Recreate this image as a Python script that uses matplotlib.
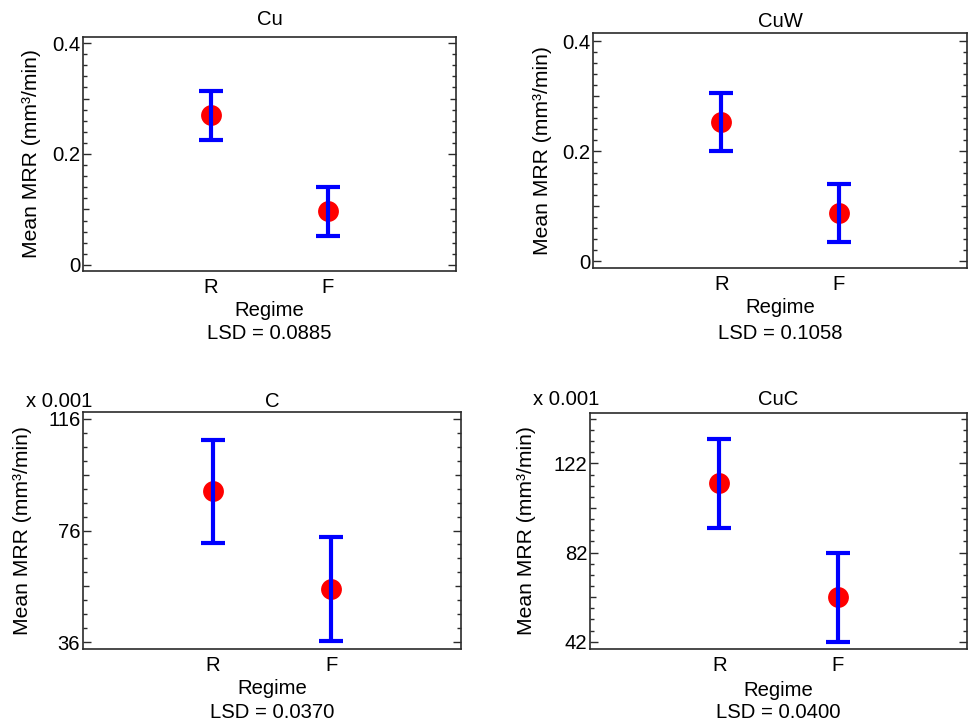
import numpy as np
import matplotlib
matplotlib.use("Agg")
import matplotlib.pyplot as plt
from matplotlib.ticker import MultipleLocator, FuncFormatter

plt.rcParams['font.family'] = ['Liberation Sans', 'DejaVu Sans']

# data
materials = ['Cu', 'CuW', 'C', 'CuC']
regimes = ['R', 'F']
mean_cu = [0.270, 0.097]
mean_cuw = [0.253, 0.087]
mean_c = [0.090, 0.055]
mean_cuc = [0.113, 0.062]
lsd = [0.0885, 0.1058, 0.0370, 0.0400]
scale = [1, 1, 1000, 1000]          # C and CuC are shown in units of 0.001

# axis settings per panel: ylim, labelled step, offset, minor step
ylims = [(-0.011, 0.411), (-0.0127, 0.4145), (33.5, 118.5), (38.7, 144.6)]
lab_step = [0.2, 0.2, 40, 40]
lab_off = [0.0, 0.0, 36, 42]
minor_step = [0.02, 0.02, 5, 5]

means = [mean_cu, mean_cuw, mean_c, mean_cuc]

# layout (figure fractions) and text offsets
boxes = [[0.0856, 0.6262, 0.3845, 0.3228],
         [0.6113, 0.6303, 0.3856, 0.3241],
         [0.0856, 0.1048, 0.3897, 0.3269],
         [0.6082, 0.1048, 0.3887, 0.3255]]
title_y = [1.073, 1.051, 1.046, 1.059]
ylab_x = [-0.139, -0.134, -0.159, -0.167]
xlab_y = [-0.167, -0.170, -0.165, -0.174]
lsd_y = [-0.265, -0.277, -0.266, -0.267]

fs = 14.6
spine_col = '#2b2b2b'

fig = plt.figure(figsize=(9.7, 7.25), dpi=100)

for i in range(4):
    ax = fig.add_axes(boxes[i])
    x = np.arange(1, len(regimes) + 1)
    y = np.array(means[i]) * scale[i]
    half = lsd[i] / 2 * scale[i]

    ax.plot(x, y, 'o', color='#ff0000', markersize=15, markeredgewidth=0, zorder=2)
    ax.errorbar(x, y, yerr=half, fmt='none', ecolor='#0000ff', elinewidth=3,
                capsize=8.8, capthick=3, zorder=3)

    ax.set_xlim(-0.095, 3.095)
    ax.set_ylim(*ylims[i])
    ax.set_xticks(x)
    ax.set_xticklabels(regimes, fontsize=fs)
    ax.tick_params(axis='x', length=0, pad=5)

    st = lab_step[i]
    off = lab_off[i]
    ax.yaxis.set_major_locator(MultipleLocator(st / 2, offset=off % (st / 2)))
    ax.yaxis.set_minor_locator(MultipleLocator(minor_step[i], offset=off % minor_step[i]))

    def fmt(v, pos, st=st, off=off):
        k = (v - off) / st
        if abs(k - round(k)) > 1e-6:
            return ''
        if st < 1:
            return '0' if abs(v) < 1e-9 else '%g' % round(v, 3)
        return '%d' % round(v)
    ax.yaxis.set_major_formatter(FuncFormatter(fmt))

    ax.tick_params(axis='y', which='both', direction='in', left=True, right=True,
                   color=spine_col, width=1.0, labelsize=fs, pad=2)
    ax.tick_params(axis='y', which='major', length=6)
    ax.tick_params(axis='y', which='minor', length=3)

    # medium ticks between the labelled ones
    locs = ax.yaxis.get_majorticklocs()
    ticks = ax.yaxis.get_major_ticks(len(locs))
    for t, v in zip(ticks, locs):
        k = (v - off) / st
        if abs(k - round(k)) > 1e-6:
            t.tick1line.set_markersize(4.5)
            t.tick2line.set_markersize(4.5)

    for s in ax.spines.values():
        s.set_color(spine_col)
        s.set_linewidth(1.2)

    ax.set_ylabel('Mean MRR (mm³/min)', fontsize=15.2, va='center')
    ax.yaxis.set_label_coords(ylab_x[i], 0.5)
    ax.set_xlabel('Regime', fontsize=fs, va='center')
    ax.xaxis.set_label_coords(0.5, xlab_y[i])
    ax.text(0.5, lsd_y[i], 'LSD = %.4f' % lsd[i], transform=ax.transAxes,
            ha='center', va='center', fontsize=fs)
    ax.text(0.5, title_y[i], materials[i], transform=ax.transAxes,
            ha='center', va='center', fontsize=fs)
    if scale[i] != 1:
        ax.text(0.024, title_y[i], 'x 0.001', transform=ax.transAxes,
                ha='right', va='center', fontsize=fs)

fig.savefig('out.png', dpi=100)
